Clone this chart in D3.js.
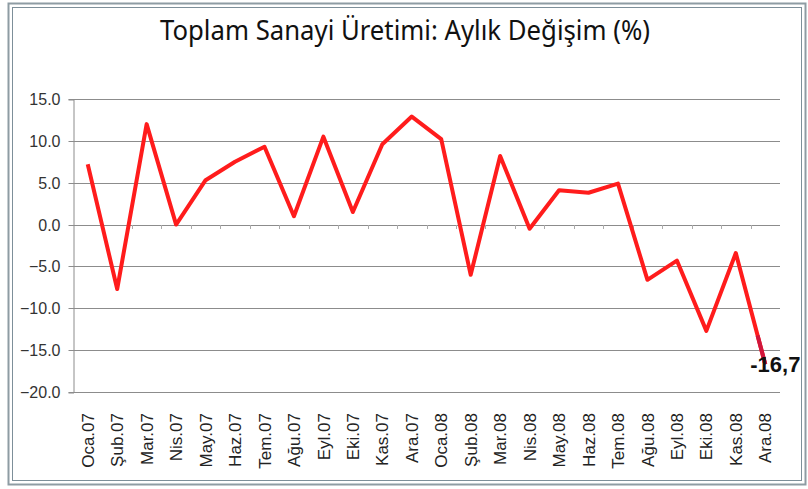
<!DOCTYPE html>
<meta charset="utf-8">
<script src="https://d3js.org/d3.v7.min.js"></script>
<style>
  body { margin: 0; background: #fff; }
  text { font-family: "Liberation Sans", Arial, sans-serif; }
</style>
<div id="chart"></div>
<script>

    // chart data
    var months = ["Oca.07", "Şub.07", "Mar.07", "Nis.07", "May.07", "Haz.07", "Tem.07", "Ağu.07",
                  "Eyl.07", "Eki.07", "Kas.07", "Ara.07", "Oca.08", "Şub.08", "Mar.08", "Nis.08",
                  "May.08", "Haz.08", "Tem.08", "Ağu.08", "Eyl.08", "Eki.08", "Kas.08", "Ara.08"];
    var change = [7.2, -7.7, 12.0, 0.0, 5.3, 7.5, 9.3, 1.0, 10.5, 1.5, 9.6, 12.9,
                  10.2, -6.0, 8.2, -0.5, 4.1, 3.8, 4.9, -6.6, -4.3, -12.7, -3.4, -16.7];
    var yTicks = [15, 10, 5, 0, -5, -10, -15, -20];
    var title = "Toplam Sanayi Üretimi: Aylık Değişim (%)";
    var lastLabel = "-16,7";

    var W = 808, H = 489;
    var margin = {top: 99, right: 28, bottom: 97, left: 73},
        width = W - margin.left - margin.right,
        height = H - margin.top - margin.bottom;

    var root = d3.select("#chart").append("svg")
        .attr("width", W)
        .attr("height", H);

    // outer frame (double line)
    root.append("rect")
        .attr("x", 8.5).attr("y", 3.5)
        .attr("width", 797).attr("height", 481)
        .attr("fill", "none").attr("stroke", "#8e9ca3").attr("stroke-width", 2);
    root.append("rect")
        .attr("x", 12.5).attr("y", 7.5)
        .attr("width", 789).attr("height", 473)
        .attr("fill", "none").attr("stroke", "#7d8f99").attr("stroke-width", 1);

    // title
    root.append("text")
        .attr("x", 405).attr("y", 40)
        .attr("text-anchor", "middle")
        .style("font-family", "'Noto Sans', sans-serif")
        .style("font-size", "28px")
        .style("fill", "#111")
        .attr("textLength", 490)
        .attr("lengthAdjust", "spacingAndGlyphs")
        .text(title);

    var svg = root.append("g")
        .attr("transform", "translate(" + margin.left + "," + margin.top + ")");

    var x = d3.scalePoint()
        .domain(months)
        .range([0, width])
        .padding(0.5);

    var y = d3.scaleLinear()
        .domain([-20, 15])
        .range([height, 0]);

    // gridlines
    svg.selectAll(".grid")
        .data(yTicks)
        .enter().append("line")
        .attr("x1", 0).attr("x2", width)
        .attr("y1", function(d) { return Math.round(y(d)) + 0.5; })
        .attr("y2", function(d) { return Math.round(y(d)) + 0.5; })
        .attr("stroke", "#8c8c8c");

    // y axis
    var yAxis = svg.append("g")
        .attr("transform", "translate(0.5,0.5)")
        .call(d3.axisLeft(y).tickValues(yTicks).tickSize(5).tickPadding(8)
            .tickFormat(function(d) { return d3.format(".1f")(d); }));
    yAxis.select(".domain").attr("stroke", "#8c8c8c");
    yAxis.selectAll(".tick line").attr("stroke", "#8c8c8c");
    yAxis.selectAll(".tick text")
        .style("font-size", "16px")
        .style("fill", "#333");
    yAxis.selectAll(".tick").attr("transform", function(d) {
        return "translate(0," + Math.round(y(d)) + ")";
    });

    // small category ticks on the zero line
    var step = x.step();
    svg.selectAll(".ctick")
        .data(months.slice(1))
        .enter().append("line")
        .attr("x1", function(d) { return Math.round(x(d) - step / 2) + 0.5; })
        .attr("x2", function(d) { return Math.round(x(d) - step / 2) + 0.5; })
        .attr("y1", Math.round(y(0)))
        .attr("y2", Math.round(y(0)) + 4)
        .attr("stroke", "#aaa");

    // x labels at the bottom, rotated
    svg.selectAll(".xlab")
        .data(months)
        .enter().append("text")
        .attr("transform", function(d) {
            return "translate(" + x(d) + "," + (height + 21) + ") rotate(-90)";
        })
        .attr("dy", "0.36em")
        .attr("text-anchor", "end")
        .style("font-size", "17px")
        .style("fill", "#222")
        .text(function(d) { return d; });

    // line
    var line = d3.line()
        .x(function(d, i) { return x(months[i]); })
        .y(function(d) { return y(d); });

    svg.append("path")
        .datum(change)
        .attr("d", line)
        .attr("fill", "none")
        .attr("stroke", "#ff1c1c")
        .attr("stroke-width", 4)
        .attr("stroke-linejoin", "round");

    // darker tail at the last point
    var n = change.length;
    var x0 = x(months[n - 2]), y0 = y(change[n - 2]);
    var x1 = x(months[n - 1]), y1 = y(change[n - 1]);
    var t = 0.74;
    svg.append("line")
        .attr("x1", x0 + (x1 - x0) * t).attr("y1", y0 + (y1 - y0) * t)
        .attr("x2", x1).attr("y2", y1)
        .attr("stroke", "#d0163c")
        .attr("stroke-width", 4);

    // end value label
    svg.append("text")
        .attr("x", x1 - 15).attr("y", y1 + 8)
        .style("font-size", "22px")
        .style("font-weight", "bold")
        .style("fill", "#111")
        .text(lastLabel);

</script>
